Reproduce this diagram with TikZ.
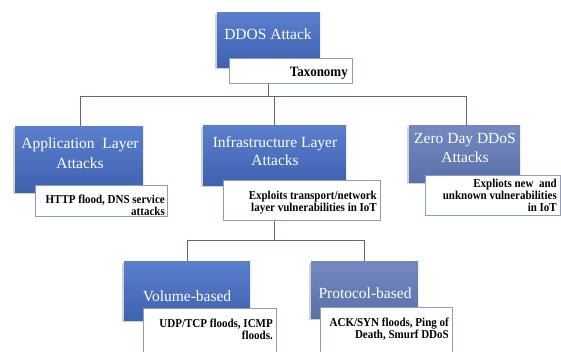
\documentclass[tikz,border=0pt]{standalone}
\usepackage{fontspec}
\setmainfont{Liberation Serif}
\usetikzlibrary{shadows}
\definecolor{bA}{HTML}{5A7FCC}
\definecolor{bB}{HTML}{3F62B0}
\definecolor{gA}{HTML}{7489BF}
\definecolor{gB}{HTML}{5A70A8}
\definecolor{edgeB}{HTML}{8C9CC4}
\definecolor{lineB}{HTML}{53679A}
\newcommand{\tallt}[1]{\scalebox{1}[1.1]{#1}}
\tikzset{
  bluebox/.style={draw=none, top color=bA, bottom color=bB, anchor=north west,
    drop shadow={shadow xshift=-2pt, shadow yshift=-2pt, opacity=0.35}, inner sep=0pt},
  greybox/.style={bluebox, top color=gA, bottom color=gB},
  descbox/.style={draw=edgeB, fill=white, line width=0.6pt, anchor=north west, inner sep=0pt,
    drop shadow={shadow xshift=1pt, shadow yshift=-1pt, opacity=0.15}},
  ttl/.style={text=white, font=\fontsize{15.5}{19}\selectfont, anchor=base, inner sep=0pt},
  dtx/.style={text=black, font=\bfseries\fontsize{11}{12}\selectfont, anchor=base east, inner sep=0pt},
  conn/.style={draw=lineB, line width=0.7pt}
}
\begin{document}
\begin{tikzpicture}[x=1pt,y=-1pt]
\useasboundingbox (0,0) rectangle (561,351);
\fill[white] (0,0) rectangle (561,351);
% junction coordinates
\coordinate (hL) at (80,96);
\coordinate (hR) at (466,96);
\coordinate (hM) at (274,96);
\coordinate (tx) at (268,96);
\coordinate (vL) at (187,240);
\coordinate (vR) at (364,240);
\coordinate (vM) at (274,240);
% connectors
\draw[conn] (tx) -- (268,80);
\draw[conn] (hL) -- (hR);
\draw[conn] (hL) -- (80,130);
\draw[conn] (hM) -- (274,130);
\draw[conn] (hR) -- (466,130);
\draw[conn] (274,215) -- (vM);
\draw[conn] (vL) -- (vR);
\draw[conn] (vL) -- (187,265);
\draw[conn] (vR) -- (364,265);
% boxes
\node[bluebox, minimum width=103pt, minimum height=55pt] (root) at (217,12) {};
\node[descbox, minimum width=123pt, minimum height=25pt] (tax) at (229,58) {};
\node[bluebox, minimum width=128pt, minimum height=66pt] (app) at (15,126) {};
\node[bluebox, minimum width=143pt, minimum height=60pt] (inf) at (203,125) {};
\node[greybox, minimum width=111pt, minimum height=57pt] (zero) at (409,125) {};
\node[descbox, minimum width=132pt, minimum height=31pt] (appd) at (35,185) {};
\node[descbox, minimum width=157pt, minimum height=40pt] (infd) at (223,180) {};
\node[descbox, minimum width=135pt, minimum height=40pt] (zerod) at (425,175) {};
\node[bluebox, minimum width=126pt, minimum height=59pt] (vol) at (124,261) {};
\node[greybox, minimum width=107pt, minimum height=57pt] (pro) at (311,261) {};
\node[descbox, minimum width=133pt, minimum height=50pt] (vold) at (143,308) {};
\node[descbox, minimum width=132pt, minimum height=50pt] (prod) at (320,307) {};
% titles
\node[ttl] (t1) at (268,39) {DDOS Attack};
\node[ttl] (t2a) at (80,148) {Application\ \ Layer};
\node[ttl] (t2b) at (80,168) {Attacks};
\node[ttl] (t3a) at (275,147) {Infrastructure Layer};
\node[ttl] (t3b) at (275,165) {Attacks};
\node[ttl] (t4a) at (465,143) {Zero Day DDoS};
\node[ttl] (t4b) at (465,162) {Attacks};
\node[ttl] (t5) at (187,301) {Volume-based};
\node[ttl] (t6) at (365,298) {Protocol-based};
% descriptions
\node[dtx, font=\bfseries\fontsize{13}{14}\selectfont] (d0) at (348,76) {\scalebox{1}[1.1]{Taxonomy}};
\node[dtx] (d1a) at (165,203.5) {\tallt{HTTP flood, DNS service}};
\node[dtx] (d1b) at (165,215.5) {\tallt{attacks}};
\node[dtx] (d2a) at (377,199) {\tallt{Exploits transport/network}};
\node[dtx] (d2b) at (377,211) {\tallt{layer vulnerabilities in IoT}};
\node[dtx] (d3a) at (557,187) {\tallt{Expliots new\ \ and}};
\node[dtx] (d3b) at (557,199) {\tallt{unknown vulnerabilities}};
\node[dtx] (d3c) at (557,211) {\tallt{in IoT}};
\node[dtx] (d4a) at (273,327.5) {\tallt{UDP/TCP floods, ICMP}};
\node[dtx] (d4b) at (273,339.5) {\tallt{floods.}};
\node[dtx] (d5a) at (449,326) {\tallt{ACK/SYN floods, Ping of}};
\node[dtx] (d5b) at (449,338) {\tallt{Death, Smurf DDoS}};
\end{tikzpicture}
\end{document}
